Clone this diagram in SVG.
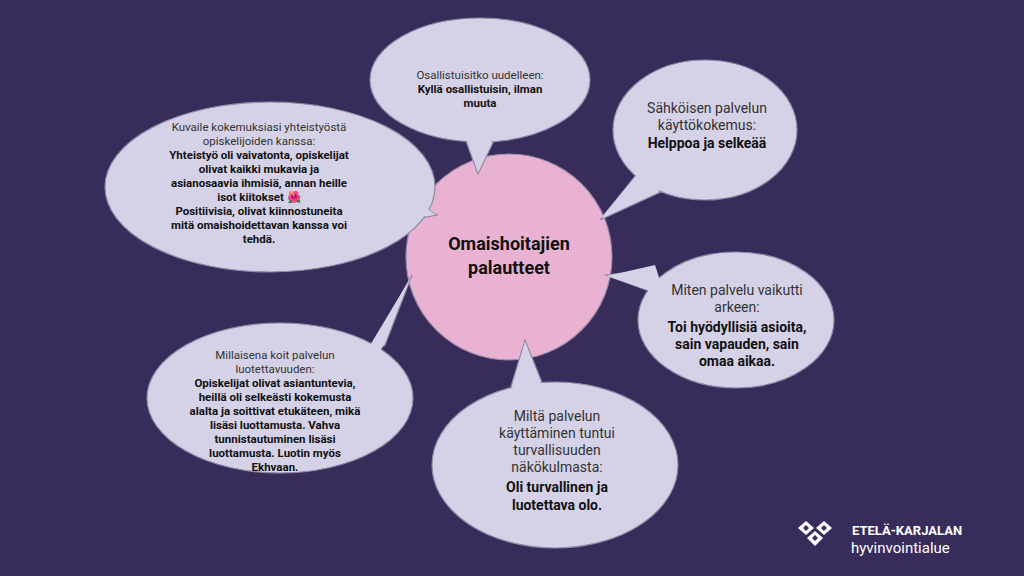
<svg xmlns="http://www.w3.org/2000/svg" width="1024" height="576" viewBox="0 0 1024 576">
<style>
.b{fill:#d5d2e7;stroke:#8e8aa6;stroke-width:1.2}
.f{fill:#d5d2e7}
text{font-family:Roboto,"Liberation Sans",sans-serif;text-anchor:middle;fill:#111}
.q{fill:#333;font-weight:400}
.a{font-weight:700}
</style>
<rect width="1024" height="576" fill="#382c5a"/>
<g id="center">
<circle cx="509" cy="257" r="103" fill="#e9b2d2" stroke="#9a8aa8" stroke-width="1.2"/>
<text x="509" y="250" class="a" font-size="18">Omaishoitajien</text>
<text x="509" y="274" class="a" font-size="18">palautteet</text>
</g>
<g id="connectors">
<polygon class="b" points="462,130 478,174 500,128"/>
<polygon class="b" points="640,170 600,220 665,190"/>
<polygon class="b" points="395,190 437,215 385,225"/>
<polygon class="b" points="660,295 605,275 650,270"/>
<polygon class="b" points="365,360 412,275 385,345"/>
<polygon class="b" points="510,390 525,340 545,390"/>
</g>
<g id="n1"><ellipse class="b" cx="480" cy="80" rx="110" ry="62"/></g>
<g id="n2"><ellipse class="b" cx="705" cy="130" rx="92" ry="70"/></g>
<g id="n3"><ellipse class="b" cx="270" cy="187" rx="165" ry="85"/></g>
<g id="n4"><ellipse class="b" cx="736" cy="320" rx="98" ry="68"/></g>
<g id="n5"><ellipse class="b" cx="280" cy="398" rx="133" ry="75"/></g>
<g id="n6"><ellipse class="b" cx="555" cy="465" rx="123" ry="83"/></g>
<g id="tailfill">
<polygon class="f" points="462,125 478,172 500,123"/>
<polygon class="f" points="645,165 601,218 670,185"/>
<polygon class="f" points="390,185 435,214 380,225"/>
<polygon class="f" points="665,296 607,276 655,265"/>
<polygon class="f" points="360,362 411,277 380,352"/>
<polygon class="f" points="510,395 525,342 545,395"/>
</g>
<g id="t1" font-size="11.5">
<text x="480" y="79" class="q">Osallistuisitko uudelleen:</text>
<text x="480" y="93" class="a">Kyllä osallistuisin, ilman</text>
<text x="480" y="107" class="a">muuta</text>
</g>
<g id="t2" font-size="14">
<text x="707" y="113" class="q">Sähköisen palvelun</text>
<text x="707" y="130" class="q">käyttökokemus:</text>
<text x="707" y="148" class="a">Helppoa ja selkeää</text>
</g>
<g id="t3" font-size="11.5">
<text x="259" y="131" class="q">Kuvaile kokemuksiasi yhteistyöstä</text>
<text x="259" y="145" class="q">opiskelijoiden kanssa:</text>
<text x="259" y="159" class="a">Yhteistyö oli vaivatonta, opiskelijat</text>
<text x="259" y="173" class="a">olivat kaikki mukavia ja</text>
<text x="259" y="187" class="a">asianosaavia ihmisiä, annan heille</text>
<text x="259" y="201" class="a">isot kiitokset 🌺</text>
<text x="259" y="215" class="a">Positiivisia, olivat kiinnostuneita</text>
<text x="259" y="229" class="a">mitä omaishoidettavan kanssa voi</text>
<text x="259" y="243" class="a">tehdä.</text>
</g>
<g id="t4" font-size="14">
<text x="737" y="295" class="q">Miten palvelu vaikutti</text>
<text x="737" y="312" class="q">arkeen:</text>
<text x="737" y="332" class="a">Toi hyödyllisiä asioita,</text>
<text x="737" y="349" class="a">sain vapauden, sain</text>
<text x="737" y="366" class="a">omaa aikaa.</text>
</g>
<g id="t5" font-size="11.5">
<text x="275" y="359" class="q">Millaisena koit palvelun</text>
<text x="275" y="373" class="q">luotettavuuden:</text>
<text x="275" y="387" class="a">Opiskelijat olivat asiantuntevia,</text>
<text x="275" y="401" class="a">heillä oli selkeästi kokemusta</text>
<text x="275" y="415" class="a">alalta ja soittivat etukäteen, mikä</text>
<text x="275" y="429" class="a">lisäsi luottamusta. Vahva</text>
<text x="275" y="443" class="a">tunnistautuminen lisäsi</text>
<text x="275" y="457" class="a">luottamusta. Luotin myös</text>
<text x="275" y="471" class="a">Ekhvaan.</text>
</g>
<g id="t6" font-size="14">
<text x="557" y="421" class="q">Miltä palvelun</text>
<text x="557" y="438" class="q">käyttäminen tuntui</text>
<text x="557" y="455" class="q">turvallisuuden</text>
<text x="557" y="472" class="q">näkökulmasta:</text>
<text x="557" y="492" class="a">Oli turvallinen ja</text>
<text x="557" y="510" class="a">luotettava olo.</text>
</g>
<g id="logo">
<g fill="#fff">
<polygon points="798,528 806,521 814,528 806,535"/>
<polygon points="816,528 824,521 832,528 824,535"/>
<polygon points="807,538 815,531 823,538 815,546"/>
</g>
<g fill="#382c5a">
<polygon points="803,528 806,525 809,528 806,531"/>
<polygon points="821,528 824,525 827,528 824,531"/>
<polygon points="812,538 815,535 818,538 815,541"/>
</g>
<text x="852" y="535" style="text-anchor:start;fill:#fff;font-weight:700" font-size="13">ETELÄ-KARJALAN</text>
<text x="851" y="553" style="text-anchor:start;fill:#fff" font-size="15">hyvinvointialue</text>
</g>
</svg>
